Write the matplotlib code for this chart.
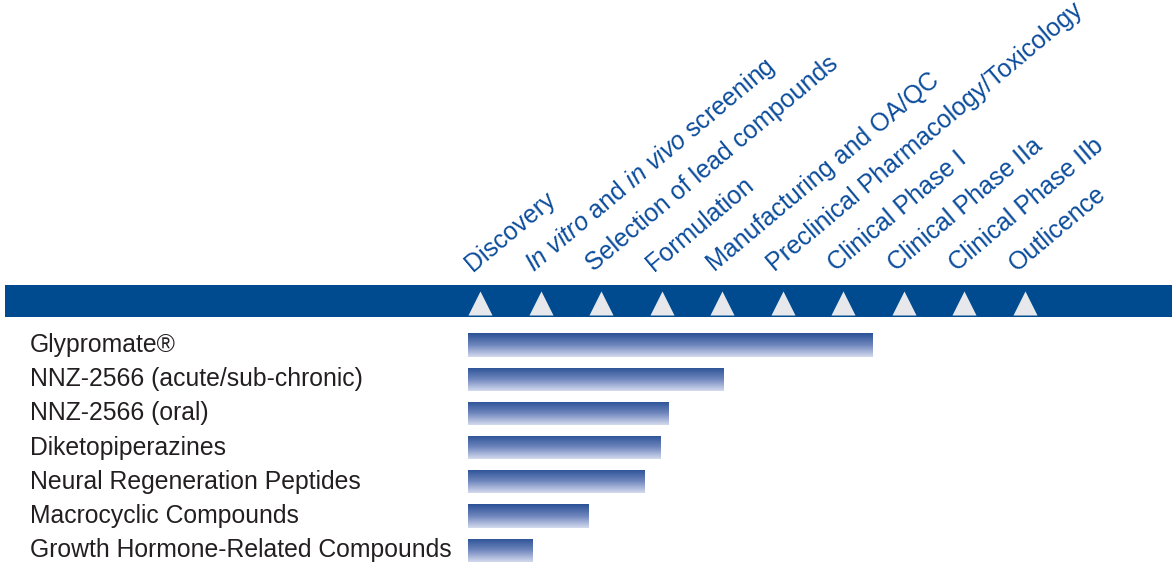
import numpy as np
import matplotlib.pyplot as plt
from matplotlib.colors import LinearSegmentedColormap

plt.rcParams['font.family'] = ['Liberation Sans', 'DejaVu Sans']
plt.rcParams['mathtext.fontset'] = 'custom'
plt.rcParams['mathtext.rm'] = 'Liberation Sans'
plt.rcParams['mathtext.it'] = 'Liberation Sans:italic'

# development stages (one triangle per stage)
stages = ['Discovery',
          r'$\mathit{In\ vitro}$ and $\mathit{in\ vivo}$ screening',
          'Selection of lead compounds',
          'Formulation',
          'Manufacturing and OA/QC',
          'Preclinical Pharmacology/Toxicology',
          'Clinical Phase I',
          'Clinical Phase IIa',
          'Clinical Phase IIb',
          'Outlicence']

# programmes and how far along the stage axis each bar reaches
programmes = ['Glypromate®',
              'NNZ-2566 (acute/sub-chronic)',
              'NNZ-2566 (oral)',
              'Diketopiperazines',
              'Neural Regeneration Peptides',
              'Macrocyclic Compounds',
              'Growth Hormone-Related Compounds']
progress = [6.48, 4.03, 3.12, 2.98, 2.71, 1.79, 0.86]
bar_start = -0.2

BLUE = '#004a8f'
TEXT_BLUE = '#0b4c9c'
grad = LinearSegmentedColormap.from_list('bar', ['#2a5196', '#6f86bd', '#d3daee'])

fig = plt.figure(figsize=(11.72, 5.65), dpi=100)
ax = fig.add_axes([0, 0, 1, 1])
# x: stage units (60.5 px per stage), y: row units (34.2 px per row)
ax.set_xlim(-480 / 60.5, (1172 - 480) / 60.5)
ax.set_ylim((565 - 345) / 34.2, -345 / 34.2)
ax.axis('off')

# blue band with triangles
ax.axhspan(-1.754, -0.819, xmin=5 / 1172, xmax=1, color=BLUE, lw=0)
ax.scatter(range(len(stages)), [-1.24] * len(stages), marker='^', s=300,
           color='#e6e8eb', lw=0, zorder=3)

# stage labels
for i, s in enumerate(stages):
    ax.text(i - 0.12, -2.13, s, rotation=40, rotation_mode='anchor',
            ha='left', va='baseline', fontsize=18, color=TEXT_BLUE)

# programme bars with vertical gradient
gimg = np.linspace(0, 1, 64).reshape(-1, 1)
bars = ax.barh(range(len(programmes)), [p - bar_start for p in progress],
               left=bar_start, height=0.68, color='none', lw=0)
for b in bars:
    x0, y0, w, h = b.get_x(), b.get_y(), b.get_width(), b.get_height()
    im = ax.imshow(gimg, cmap=grad, aspect='auto',
                   extent=(x0, x0 + w, y0 + h, y0), interpolation='bilinear')
    im.set_clip_path(b)

for i, name in enumerate(programmes):
    ax.text(-450 / 60.5, i, name, ha='left', va='center', fontsize=17.8,
            color='#231f20')

ax.set_xlim(-480 / 60.5, (1172 - 480) / 60.5)
ax.set_ylim((565 - 345) / 34.2, -345 / 34.2)

fig.savefig('out.png', dpi=100)
